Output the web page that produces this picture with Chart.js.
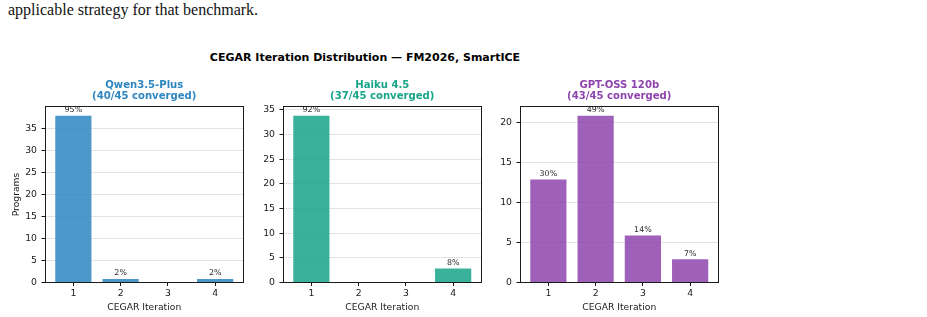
<!DOCTYPE html>
<html><head><meta charset="utf-8">
<script src="https://cdn.jsdelivr.net/npm/chart.js@4/dist/chart.umd.min.js"></script>
<style>
html,body{margin:0;padding:0;background:#fff;width:927px;height:317px;overflow:hidden;position:relative}
canvas{position:absolute;top:0}
#lead{position:absolute;left:8px;top:2px;font-family:"Liberation Serif","Times New Roman",serif;font-size:16px;line-height:16px;color:#111;white-space:nowrap}
#main{position:absolute;left:0;width:730px;top:52px;text-align:center;font-family:"DejaVu Sans",sans-serif;font-weight:bold;font-size:11px;line-height:12px;color:#000;white-space:nowrap}
</style></head><body>
<div id="lead">applicable strategy for that benchmark.</div>
<div id="main">CEGAR Iteration Distribution — FM2026, SmartICE</div>
<canvas id="c0" width="250" height="317" style="left:0px"></canvas>
<canvas id="c1" width="250" height="317" style="left:238px"></canvas>
<canvas id="c2" width="250" height="317" style="left:475px"></canvas>
<script>
// ---- data ----
const iterations = [1, 2, 3, 4];
const qwenCounts = [38, 1, 0, 1];
const haikuCounts = [34, 0, 0, 3];
const gptCounts = [13, 21, 6, 3];
const qwenPct = ['95%', '2%', '', '2%'];
const haikuPct = ['92%', '', '', '8%'];
const gptPct = ['30%', '49%', '14%', '7%'];
const qwenTicks = [0, 5, 10, 15, 20, 25, 30, 35];
const haikuTicks = [0, 5, 10, 15, 20, 25, 30, 35];
const gptTicks = [0, 5, 10, 15, 20];
const qwenTitle = ['Qwen3.5-Plus', '(40/45 converged)'];
const haikuTitle = ['Haiku 4.5', '(37/45 converged)'];
const gptTitle = ['GPT-OSS 120b', '(43/45 converged)'];
const xTitle = 'CEGAR Iteration';
const yTitle = 'Programs';

const FONT = '"DejaVu Sans", sans-serif';
const INK = '#1a1a1a';

const framePlugin = {
  id: 'frame',
  beforeDatasetsDraw(chart) {
    const {ctx, chartArea: a} = chart;
    ctx.save();
    ctx.strokeStyle = INK;
    ctx.lineWidth = 1;
    const l = Math.floor(a.left) + 0.5, r = Math.floor(a.right) + 0.5;
    const t = Math.floor(a.top) + 0.5, b = Math.floor(a.bottom) + 0.5;
    ctx.strokeRect(l, t, r - l, b - t);
    ctx.restore();
  }
};

const labelPlugin = {
  id: 'barLabels',
  afterDatasetsDraw(chart, args, opts) {
    const {ctx} = chart;
    const meta = chart.getDatasetMeta(0);
    ctx.save();
    ctx.font = '7.9px ' + FONT;
    ctx.fillStyle = '#2a2a2a';
    ctx.textAlign = 'center';
    ctx.textBaseline = 'bottom';
    meta.data.forEach((el, i) => {
      const txt = opts.labels[i];
      if (txt) ctx.fillText(txt, el.x, el.y - 1.0);
    });
    ctx.restore();
  }
};

const titlePlugin = {
  id: 'panelTitle',
  afterDraw(chart, args, opts) {
    const {ctx, chartArea: a} = chart;
    const cx = (a.left + a.right) / 2;
    ctx.save();
    ctx.font = 'bold 10.1px ' + FONT;
    ctx.fillStyle = opts.color;
    ctx.textAlign = 'center';
    ctx.textBaseline = 'middle';
    ctx.fillText(opts.lines[0], cx, 85);
    ctx.fillText(opts.lines[1], cx, 96.7);
    ctx.restore();
  }
};

function makePanel(id, counts, pcts, ticks, color, fill, titleLines, showY) {
  const yMax = Math.max(...counts) * 1.05;
  new Chart(document.getElementById(id), {
    type: 'bar',
    data: {
      datasets: [{
        data: iterations.map((x, i) => ({x: x, y: counts[i]})),
        backgroundColor: fill,
        borderColor: '#ffffff',
        borderWidth: 0.8,
        barPercentage: 0.8,
        categoryPercentage: 1.0
      }]
    },
    options: {
      responsive: false,
      animation: false,
      devicePixelRatio: 1,
      layout: {padding: {top: 106.5, right: 6.5, bottom: 0, left: 0}},
      plugins: {
        legend: {display: false},
        tooltip: {enabled: false},
        title: {display: false},
        barLabels: {labels: pcts},
        panelTitle: {lines: titleLines, color: color}
      },
      scales: {
        x: {
          type: 'linear', min: 0.4, max: 4.6, offset: false,
          afterBuildTicks: s => { s.ticks = iterations.map(v => ({value: v})); },
          afterFit: s => { s.height = 34.5; },
          grid: {display: true, drawOnChartArea: false, drawTicks: true, tickLength: 3.5, tickColor: INK, offset: false},
          border: {display: false},
          ticks: {padding: 2.5, autoSkip: false, maxRotation: 0, color: INK, font: {family: FONT, size: 9.3}, callback: v => String(v)},
          title: {display: true, text: xTitle, color: INK, font: {family: FONT, size: 9.2}, padding: {top: 0, bottom: 3.8}}
        },
        y: {
          type: 'linear', min: 0, max: yMax,
          afterBuildTicks: s => { s.ticks = ticks.map(v => ({value: v})); },
          afterFit: s => { s.width = 45; },
          grid: {display: true, drawOnChartArea: true, drawTicks: true, tickLength: 3.5, color: '#e2e2e2', tickColor: INK, lineWidth: 1},
          border: {display: false},
          ticks: {padding: 4.5, color: INK, font: {family: FONT, size: 9.3}, callback: v => String(v)},
          title: {display: showY, text: yTitle, color: INK, font: {family: FONT, size: 9.2}, padding: {top: 11.5, bottom: 0}}
        }
      }
    },
    plugins: [framePlugin, labelPlugin, titlePlugin]
  });
}

makePanel('c0', qwenCounts, qwenPct, qwenTicks, '#2E86C1', 'rgba(46,134,193,0.85)', qwenTitle, true);
makePanel('c1', haikuCounts, haikuPct, haikuTicks, '#17A589', 'rgba(23,165,137,0.85)', haikuTitle, false);
makePanel('c2', gptCounts, gptPct, gptTicks, '#8E44AD', 'rgba(142,68,173,0.85)', gptTitle, false);
</script>
</body></html>
